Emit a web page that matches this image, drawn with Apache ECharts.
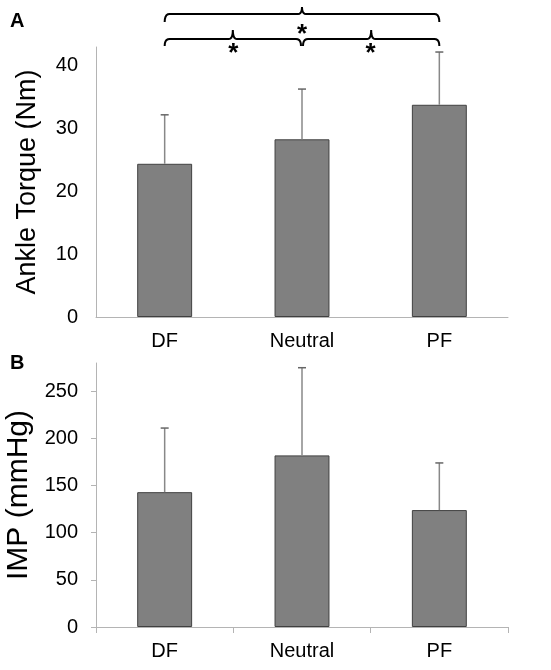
<!DOCTYPE html>
<html><head><meta charset="utf-8">
<script src="https://cdn.jsdelivr.net/npm/echarts@6/dist/echarts.min.js"></script>
<style>html,body{margin:0;padding:0;background:#fff}#c{width:551px;height:670px}</style>
</head><body><div id="c"></div>
<script>
var categories = ['DF', 'Neutral', 'PF'];
var torqueMean = [24.4, 28.3, 33.8];
var torqueSD = [7.8, 8.0, 8.4];
var impMean = [143, 182, 124];
var impSD = [68, 93, 50];
var torqueTicks = [0, 10, 20, 30, 40];
var impTicks = [0, 50, 100, 150, 200, 250];

var FONT = '"Liberation Sans", Arial, sans-serif';
var axisGray = '#b4b4b4';

function errData(mean, sd) {
  return mean.map(function (m, i) { return [i, m, m + sd[i]]; });
}
function errRender(params, api) {
  var x = api.value(0);
  var p0 = api.coord([x, api.value(1)]);
  var p1 = api.coord([x, api.value(2)]);
  var cap = 4;
  return {
    type: 'group',
    children: [
      { type: 'line', shape: { x1: p0[0], y1: p0[1], x2: p1[0], y2: p1[1] }, style: { stroke: '#888', lineWidth: 1.5 } },
      { type: 'line', shape: { x1: p1[0] - cap, y1: p1[1], x2: p1[0] + cap, y2: p1[1] }, style: { stroke: '#666', lineWidth: 1.5 } }
    ]
  };
}

var chart = echarts.init(document.getElementById('c'), null, { renderer: 'canvas' });

function yAxisCommon(name, tickLen, nameSize, gap) {
  return {
    type: 'value', min: 0, name: name, nameLocation: 'middle', nameGap: gap,
    nameTextStyle: { fontFamily: FONT, fontSize: nameSize, color: '#000' },
    axisLine: { show: true, lineStyle: { color: axisGray, width: 1 } },
    axisTick: { show: tickLen > 0, length: tickLen, lineStyle: { color: axisGray } },
    splitLine: { show: false },
    axisLabel: { fontFamily: FONT, fontSize: 20, color: '#000', margin: 18, showMaxLabel: false }
  };
}

var yA = yAxisCommon('Ankle Torque (Nm)', 0, 27, 55);
yA.max = 43; yA.interval = 10; yA.gridIndex = 0;
var yB = yAxisCommon('IMP (mmHg)', 5, 30, 50);
yB.max = 280; yB.interval = 50; yB.gridIndex = 1;

chart.setOption({
  animation: false,
  grid: [
    { left: 96, right: 43, top: 47, bottom: 353, outerBoundsMode: 'none', containLabel: false },
    { left: 96, right: 43, top: 363, bottom: 43, outerBoundsMode: 'none', containLabel: false }
  ],
  xAxis: [
    { type: 'category', data: categories, gridIndex: 0,
      axisLine: { lineStyle: { color: axisGray } }, axisTick: { show: false },
      axisLabel: { fontFamily: FONT, fontSize: 20, color: '#000', margin: 14 } },
    { type: 'category', data: categories, gridIndex: 1,
      axisLine: { lineStyle: { color: axisGray } }, axisTick: { show: true, length: 6, lineStyle: { color: axisGray } },
      axisLabel: { fontFamily: FONT, fontSize: 20, color: '#000', margin: 14 } }
  ],
  yAxis: [yA, yB],
  series: [
    { type: 'bar', xAxisIndex: 0, yAxisIndex: 0, data: torqueMean, barWidth: '40%',
      itemStyle: { color: '#808080', borderColor: '#404040', borderWidth: 1 } },
    { type: 'custom', xAxisIndex: 0, yAxisIndex: 0, data: errData(torqueMean, torqueSD), renderItem: errRender, z: 3 },
    { type: 'bar', xAxisIndex: 1, yAxisIndex: 1, data: impMean, barWidth: '40%',
      itemStyle: { color: '#808080', borderColor: '#404040', borderWidth: 1 } },
    { type: 'custom', xAxisIndex: 1, yAxisIndex: 1, data: errData(impMean, impSD), renderItem: errRender, z: 3 }
  ]
});

// Significance brackets (annotation); x positions come from the category axis
function cx(i) { return chart.convertToPixel({ xAxisIndex: 0 }, categories[i]); }
function quad(p0, c, p1, out) {
  for (var t = 0.2; t <= 1.0001; t += 0.2) {
    var a = (1 - t) * (1 - t), b = 2 * (1 - t) * t, d = t * t;
    out.push([a * p0[0] + b * c[0] + d * p1[0], a * p0[1] + b * c[1] + d * p1[1]]);
  }
}
function bracketPoints(x1, x2, y, drop, rise) {
  var xm = (x1 + x2) / 2, pts = [[x1, y + drop]];
  quad([x1, y + drop], [x1, y], [x1 + 5, y], pts);
  pts.push([xm - 4, y]);
  quad([xm - 4, y], [xm, y], [xm, y - rise], pts);
  quad([xm, y - rise], [xm, y], [xm + 4, y], pts);
  pts.push([x2 - 5, y]);
  quad([x2 - 5, y], [x2, y], [x2, y + drop], pts);
  return pts;
}
var x0 = cx(0), x1 = cx(1), x2 = cx(2);
function bracket(xa, xb, y, drop, rise) {
  return { type: 'polyline', shape: { points: bracketPoints(xa, xb, y, drop, rise) },
    style: { stroke: '#000', lineWidth: 2, fill: null } };
}
function star(x, y) {
  return { type: 'text', x: x, y: y, style: { text: '*', font: 'bold 26px ' + FONT, fill: '#000', textAlign: 'center', textVerticalAlign: 'middle' } };
}
chart.setOption({
  graphic: [
    { type: 'text', x: 10, y: 11, style: { text: 'A', font: 'bold 20px ' + FONT, fill: '#000' } },
    { type: 'text', x: 10, y: 353, style: { text: 'B', font: 'bold 20px ' + FONT, fill: '#000' } },
    bracket(x0, x2, 14, 8, 7),
    bracket(x0, x1 - 1, 39, 7, 9),
    bracket(x1 + 1, x2, 39, 7, 9),
    star(x1, 35),
    star((x0 + x1) / 2, 54),
    star((x1 + x2) / 2, 54)
  ]
});
</script></body></html>
